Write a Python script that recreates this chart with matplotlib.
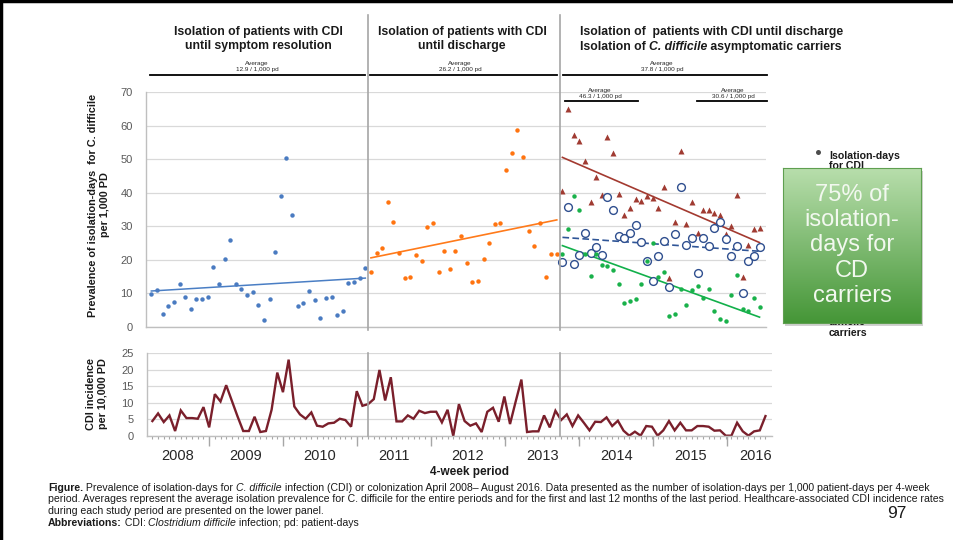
import numpy as np
import pandas as pd
import matplotlib
matplotlib.use("Agg")
import matplotlib.pyplot as plt
from matplotlib.lines import Line2D
from matplotlib.patches import Rectangle
from matplotlib import transforms

# ---------------------------------------------------------------- data
# Isolation-days per 1,000 patient-days, one value per 4-week period
phase1 = [9.8, 11.1, 4.0, 6.3, 7.4, 12.7, 9.0, 5.3, 8.4, 8.2, 9.0, 17.9, 12.7,
          20.3, 25.8, 12.7, 11.4, 9.5, 10.3, 6.6, 2.2, 8.4, 22.2, 39.1, 50.2,
          33.3, 6.3, 7.1, 10.6, 7.9, 2.7, 8.7, 9.0, 3.5, 4.8, 13.0, 13.5, 14.6,
          17.7]
phase2 = [16.4, 22.0, 23.6, 37.2, 31.2, 22.0, 14.6, 14.9, 21.5, 19.8, 29.9,
          30.9, 16.4, 22.5, 17.4, 22.5, 27.2, 19.0, 13.3, 13.8, 20.3, 24.9,
          30.7, 30.9, 46.8, 51.8, 58.6, 50.5, 28.5, 24.1, 30.9, 15.0, 21.7,
          21.7]
phase3_total = [40.6, 64.9, 57.2, 55.5, 49.5, 37.1, 44.8, 39.2, 56.6, 51.7,
                39.5, 33.5, 35.5, 38.2, 37.4, 39.0, 38.4, 35.5, 41.6, 14.7,
                31.4, 52.5, 30.8, 37.1, 27.9, 34.8, 34.8, 34.0, 33.5, 27.6,
                30.0, 39.2, 15.0, 24.5, 29.2, 29.5]
phase3_carriers = [19.4, 35.8, 18.7, 21.3, 28.1, 22.1, 23.7, 21.3, 38.7, 35.0,
                   27.1, 26.6, 28.1, 30.3, 25.2, 19.6, 13.7, 21.1, 25.5, 11.8,
                   27.6, 41.6, 24.5, 26.6, 16.0, 26.6, 24.0, 29.5, 31.3, 26.3,
                   21.1, 24.0, 10.0, 19.7, 21.1, 23.7]
phase3_cdi = [21.6, 29.1, 39.1, 35.0, 21.8, 15.3, 21.6, 18.5, 18.3, 16.9, 12.8,
              7.2, 7.7, 8.2, 12.8, 19.8, 25.0, 14.9, 16.4, 3.2, 4.0, 11.2, 6.6,
              10.9, 12.2, 8.5, 11.4, 4.9, 2.5, 1.7, 9.6, 15.6, 5.3, 4.9, 8.5,
              6.1]

# Healthcare-associated CDI incidence per 10,000 patient-days
incidence = [4.5, 6.8, 4.2, 6.2, 1.5, 7.7, 5.4, 5.4, 5.2, 8.7, 2.6, 12.6, 10.4,
             15.3, 10.6, 5.9, 1.5, 1.5, 5.8, 1.2, 1.5, 7.9, 19.1, 13.2, 23.0,
             8.9, 6.5, 5.2, 7.1, 3.1, 2.8, 3.8, 4.0, 5.2, 4.8, 2.8, 13.5,
             9.1, 9.6, 11.1, 19.9, 10.7, 17.7, 4.4, 4.4, 6.2, 5.2, 7.6, 6.9,
             7.3, 7.3, 4.1, 7.9, 0.0, 9.6, 4.5, 3.1, 3.8, 1.2, 7.3, 8.5, 4.3,
             11.9, 3.6, 10.4, 17.0, 1.2, 1.4, 1.4, 6.2, 2.6, 7.6, 4.8,
             6.5, 3.0, 6.2, 4.0, 1.7, 4.3, 4.2, 5.6, 3.0, 4.6, 1.6, 0.1, 1.3,
             0.1, 3.0, 2.8, 0.1, 1.7, 4.5, 1.7, 4.0, 1.7, 1.7, 3.0, 3.0, 2.8,
             1.6, 1.7, 0.1, 0.1, 4.0, 1.4, 0.1, 1.4, 1.7, 6.0]

years = [2008, 2009, 2010, 2011, 2012, 2013, 2014, 2015, 2016]
first_period_start = "2008-03-28"
period_days = 28

phase_titles = ["Isolation of patients with CDI\nuntil symptom resolution",
                "Isolation of patients with CDI\nuntil discharge"]
phase_averages = ["12.9", "26.2", "37.8"]
sub_averages = ["46.3", "30.6"]

# ---------------------------------------------------------------- layout helpers
W, H = 954, 540
fig = plt.figure(figsize=(W / 100, H / 100), dpi=100)
fig.patch.set_facecolor("white")

SANS = ["Liberation Sans", "DejaVu Sans"]


def fx(px):
    return px / W


def fy(py):
    return 1 - py / H


def hline(x0, x1, y, lw=1.2, color="black", z=5):
    fig.add_artist(Line2D([fx(x0), fx(x1)], [fy(y), fy(y)], lw=lw,
                          color=color, transform=fig.transFigure, zorder=z))


def vline(x, y0, y1, lw=1.2, color="#A6A6A6", z=1):
    fig.add_artist(Line2D([fx(x), fx(x)], [fy(y0), fy(y1)], lw=lw,
                          color=color, transform=fig.transFigure, zorder=z))


renderer = fig.canvas.get_renderer()


def text_width(s, **kw):
    t = fig.text(0, 0, s, **kw)
    w = t.get_window_extent(renderer).width
    t.remove()
    return w


def draw_runs(x_px, y_px, runs, size, family, color="#1a1a1a"):
    x = x_px
    for s, style in runs:
        t = fig.text(fx(x), fy(y_px), s, fontsize=size, family=family,
                     va="baseline", ha="left", color=color, **style)
        x += t.get_window_extent(renderer).width
    return x


# ---------------------------------------------------------------- axes
x_lo, x_hi = -0.95, 109.15
ax = fig.add_axes([fx(146), fy(327), 620 / W, 235 / H])
axb = fig.add_axes([fx(147), fy(436), 625 / W, 83 / H])

for a in (ax, axb):
    a.set_xlim(x_lo, x_hi)
    a.set_facecolor("none")
    for s in ("top", "right"):
        a.spines[s].set_visible(False)
    for s in ("left", "bottom"):
        a.spines[s].set_color("#BFBFBF")
        a.spines[s].set_linewidth(1.0)
    a.grid(axis="y", color="#D9D9D9", lw=0.9)
    a.set_axisbelow(True)
    a.tick_params(axis="y", length=0, pad=9.5, labelsize=8, labelcolor="#595959")

ax.set_ylim(0, 70)
ax.set_yticks(range(0, 71, 10))
ax.set_xticks([])
axb.set_ylim(0, 25)
axb.set_yticks(range(0, 26, 5))
for a in (ax, axb):
    for lab in a.get_yticklabels():
        lab.set_fontfamily(SANS)

# ---------------------------------------------------------------- upper scatter
i1 = np.arange(0, len(phase1))
i2 = np.arange(i1[-1] + 1, i1[-1] + 1 + len(phase2))
i3 = np.arange(i2[-1] + 1, i2[-1] + 1 + len(phase3_total))


def trend(x, y, **kw):
    k, b = np.polyfit(x, y, 1)
    ax.plot([x[0], x[-1]], [k * x[0] + b, k * x[-1] + b], **kw)


ax.plot(i1, phase1, "o", color="#4A7BC1", ms=3.2, mec="none", zorder=3)
trend(i1, phase1, color="#4A7EC4", lw=1.1, zorder=2)
ax.plot(i2, phase2, "o", color="#FF7410", ms=3.2, mec="none", zorder=3)
trend(i2, phase2, color="#FF7A1A", lw=1.2, zorder=2)

ax.plot(i3, phase3_total, "^", color="#A03B32", ms=4.0, mec="none", zorder=3)
ax.plot(i3, phase3_carriers, "o", mfc="white", mec="#2F4F8F", ms=5.6, mew=1.0,
        zorder=3)
ax.plot(i3, phase3_cdi, "o", color="#19B14A", ms=3.2, mec="none", zorder=4)
trend(i3, phase3_total, color="#A33A30", lw=1.2, zorder=2)
trend(i3, phase3_carriers, color="#2F5597", lw=1.2, ls=(0, (4, 2)), zorder=2)
trend(i3, phase3_cdi, color="#12B04B", lw=1.2, zorder=2)

# phase separators
for b in (i1[-1] + 0.4, i2[-1] + 0.6):
    px = ax.transData.transform((b, 0))[0]
    vline(px, 15, 330)
    vline(px, 353, 436)

# ---------------------------------------------------------------- lower panel
ib = np.arange(len(incidence))
axb.plot(ib, incidence, color="#7A1F2B", lw=1.7, solid_joinstyle="miter")

start = pd.Timestamp(first_period_start)
bounds = [(pd.Timestamp(f"{y}-01-01") - start).days / period_days
          for y in years[1:]]
axb.set_xticks(bounds)
axb.set_xticks(np.arange(0, len(incidence)), minor=True)
axb.set_xticklabels([])
axb.tick_params(axis="x", which="major", length=7, color="#A6A6A6", width=1.0)
axb.tick_params(axis="x", which="minor", length=2.5, color="#A6A6A6", width=0.8)

edges = [x_lo] + bounds + [x_hi]
blend = transforms.blended_transform_factory(axb.transData, axb.transAxes)
for k, y in enumerate(years):
    if k == len(years) - 1:
        xpos, ha = x_hi, "right"
    else:
        xpos, ha = (edges[k] + edges[k + 1]) / 2, "center"
    axb.text(xpos, -0.235, str(y), transform=blend, ha=ha, va="center",
             fontsize=10.5, color="#262626", family=SANS)

# ---------------------------------------------------------------- labels
fig.text(fx(99), fy(205),
         "Prevalence of isolation-days  for C. difficile\nper 1,000 PD",
         rotation=90, ha="center", va="center", multialignment="center",
         fontsize=7.8, fontweight="bold", family=SANS, color="#1a1a1a",
         linespacing=1.15)
fig.text(fx(97), fy(394), "CDI incidence\nper 10,000 PD", rotation=90,
         ha="center", va="center", multialignment="center", fontsize=7.8,
         fontweight="bold", family=SANS, color="#1a1a1a", linespacing=1.15)
fig.text(fx(470), fy(472), "4-week period", ha="center", va="center",
         fontsize=8.5, fontweight="bold", family=SANS, color="#1a1a1a")

# phase titles
for cx, title in zip((258, 462), phase_titles):
    fig.text(fx(cx), fy(39), title, ha="center", va="center",
             multialignment="center", fontsize=8.8, fontweight="bold",
             family=SANS, color="#1a1a1a", linespacing=1.25)
draw_runs(580, 35, [("Isolation of  patients with CDI until discharge",
                     dict(fontweight="bold"))], 8.8, SANS)
draw_runs(580, 50, [("Isolation of ", dict(fontweight="bold")),
                    ("C. difficile", dict(fontweight="bold", fontstyle="italic")),
                    (" asymptomatic carriers", dict(fontweight="bold"))],
          8.8, SANS)


def average_mark(cx, y_text, y_bar, x0, x1, value):
    fig.text(fx(cx), fy(y_text), f"Average\n{value} / 1,000 pd", ha="center",
             va="center", fontsize=4.6, family=SANS, color="#262626",
             linespacing=1.25)
    hline(x0, x1, y_bar, lw=1.3)


average_mark(257, 66, 74.5, 150, 365, phase_averages[0])
average_mark(460, 66, 74.5, 370, 557, phase_averages[1])
average_mark(662, 66, 74.5, 563, 767, phase_averages[2])
average_mark(600, 93.5, 101, 565, 638, sub_averages[0])
average_mark(733, 93.5, 101, 697, 767, sub_averages[1])

# legend remnants (mostly behind the call-out box)
fig.add_artist(Line2D([fx(818)], [fy(152)], marker="o", ms=3.6, color="#4D4D4D",
                      mec="none", transform=fig.transFigure, zorder=3))
fig.text(fx(829), fy(161), "Isolation-days\nfor CDI", ha="left", va="center",
         fontsize=7.6, fontweight="bold", family=SANS, color="#1a1a1a",
         linespacing=1.05, zorder=3)
fig.text(fx(829), fy(327.5), "difficile\ncarriers", ha="left", va="center",
         fontsize=7.6, fontweight="bold", family=SANS, color="#1a1a1a",
         linespacing=1.05, zorder=3)

# call-out box with vertical green gradient
bx0, bx1, by0, by1 = 783, 921, 168, 323
fig.add_artist(Rectangle((fx(bx0 + 2), fy(by1 + 3)), (bx1 - bx0) / W,
                         (by1 - by0) / H, transform=fig.transFigure,
                         facecolor="#000000", alpha=0.18, lw=0, zorder=8))
box = fig.add_axes([fx(bx0), fy(by1), (bx1 - bx0) / W, (by1 - by0) / H],
                   zorder=10)
grad = np.linspace(0, 1, 256)[:, None]
top_c = np.array([0xB8, 0xDE, 0xAC]) / 255
bot_c = np.array([0x45, 0x96, 0x37]) / 255
img = top_c[None, None, :] * (1 - grad[..., None]) + bot_c[None, None, :] * grad[..., None]
box.imshow(img, aspect="auto", extent=(0, 1, 0, 1))
box.set_xlim(0, 1)
box.set_ylim(0, 1)
box.set_xticks([])
box.set_yticks([])
for s in box.spines.values():
    s.set_color("#5F9F50")
    s.set_linewidth(0.8)
box.text(0.5, 0.5, "75% of\nisolation-\ndays for\nCD\ncarriers", ha="center",
         va="center", multialignment="center", fontsize=17, color="#F2F8EF",
         family=SANS, linespacing=1.2, transform=box.transAxes)

# ---------------------------------------------------------------- caption
cap_size = 7.0
line2 = ("period. Averages represent the average isolation prevalence for C. "
         "difficile for the entire periods and for the first and last 12 months "
         "of the last period. Healthcare-associated CDI incidence rates")
w2 = text_width(line2, fontsize=cap_size, family=SANS)
cap_size *= (940 - 48) / w2
reg = dict()
bold = dict(fontweight="bold")
ital = dict(fontstyle="italic")
draw_runs(48, 491, [("Figure.", bold), (" Prevalence of isolation-days for ", reg),
                    ("C. difficile", ital),
                    (" infection (CDI) or colonization April 2008\u2013 August 2016. "
                     "Data presented as the number of isolation-days per 1,000 "
                     "patient-days per 4-week", reg)], cap_size, SANS)
draw_runs(48, 502.5, [(line2, reg)], cap_size, SANS)
draw_runs(48, 514, [("during each study period are presented on the lower panel.",
                     reg)], cap_size, SANS)
draw_runs(48, 525.5, [("Abbreviations:", bold), (" CDI: ", reg),
                      ("Clostridium difficile", ital),
                      (" infection; pd: patient-days", reg)], cap_size, SANS)
fig.text(fx(897), fy(513.5), "97", ha="center", va="center", fontsize=12.5,
         family=SANS, color="#1a1a1a")

# slide frame
hline(0, W, 1.2, lw=2.5, color="black", z=20)
vline(1.2, 0, H, lw=2.5, color="black", z=20)

fig.savefig("out.png", dpi=100, facecolor="white")
